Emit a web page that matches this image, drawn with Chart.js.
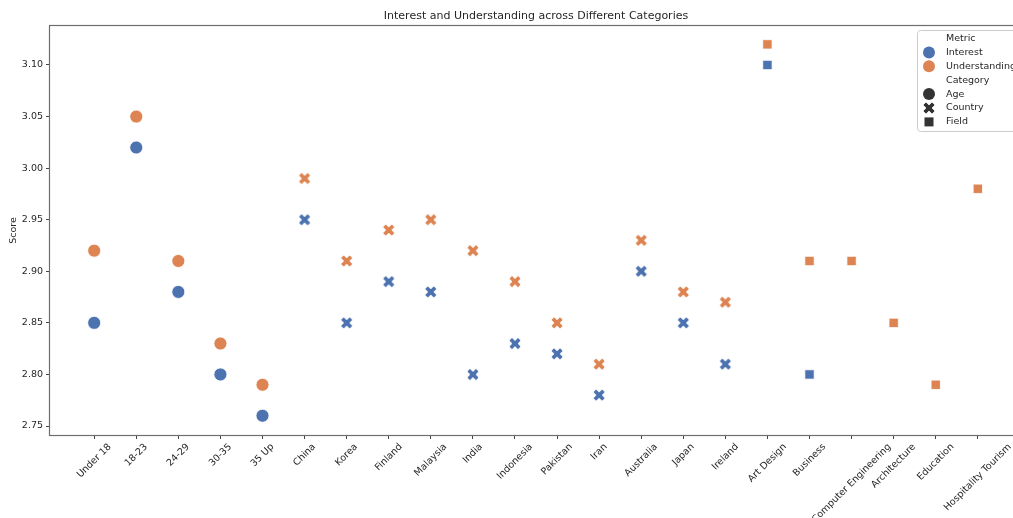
<!DOCTYPE html>
<html>
<head>
<meta charset="utf-8">
<script src="https://cdn.jsdelivr.net/npm/chart.js@4.4.1/dist/chart.umd.min.js"></script>
<style>
  html, body { margin: 0; padding: 0; background: #fff; overflow: hidden; width: 1013px; height: 518px; }
  #c { display: block; }
</style>
</head>
<body>
<canvas id="c" width="1060" height="518"></canvas>
<script>
const categories = ['Under 18','18-23','24-29','30-35','35 Up','China','Korea','Finland','Malaysia','India','Indonesia','Pakistan','Iran','Australia','Japan','Ireland','Art Design','Business','Computer Engineering','Architecture','Education','Hospitality Tourism'];
const categoryType = ['Age','Age','Age','Age','Age','Country','Country','Country','Country','Country','Country','Country','Country','Country','Country','Country','Field','Field','Field','Field','Field','Field'];
const interest = [2.85,3.02,2.88,2.80,2.76,2.95,2.85,2.89,2.88,2.80,2.83,2.82,2.78,2.90,2.85,2.81,3.10,2.80,null,null,null,null];
const understanding = [2.92,3.05,2.91,2.83,2.79,2.99,2.91,2.94,2.95,2.92,2.89,2.85,2.81,2.93,2.88,2.87,3.12,2.91,2.91,2.85,2.79,2.98];
const yTicks = [2.75,2.80,2.85,2.90,2.95,3.00,3.05,3.10];
const metricNames = ['Interest','Understanding'];
const categoryNames = ['Age','Country','Field'];

const BLUE = '#4c72b0', ORANGE = '#dd8452', DARK = '#333333';
const FONT = '"DejaVu Sans", sans-serif';
const TXT = '#262626';
const SMALL = '9.5px ' + FONT;

function xMarker(color, size) {
  const pad = 2, dim = Math.ceil(size + pad * 2);
  const cv = document.createElement('canvas');
  cv.width = dim; cv.height = dim;
  const g = cv.getContext('2d');
  const v = [[-1,-2],[0,-1],[1,-2],[2,-1],[1,0],[2,1],[1,2],[0,1],[-1,2],[-2,1],[-1,0],[-2,-1]];
  g.beginPath();
  v.forEach((p, i) => {
    const x = dim / 2 + p[0] / 4 * size, y = dim / 2 + p[1] / 4 * size;
    i ? g.lineTo(x, y) : g.moveTo(x, y);
  });
  g.closePath();
  g.fillStyle = color; g.fill();
  g.strokeStyle = 'rgba(255,255,255,0.9)'; g.lineWidth = 0.8; g.stroke();
  return cv;
}
const xBlue = xMarker(BLUE, 12), xOrange = xMarker(ORANGE, 12), xDark = xMarker(DARK, 12);

function styleFor(type, xImg) {
  if (type === 'Age') return 'circle';
  if (type === 'Country') return xImg;
  return 'rect';
}
function radiusFor(type) {
  if (type === 'Age') return 6.5;
  if (type === 'Country') return 6;
  return 6.6;
}

function makeDataset(label, values, color, xImg) {
  return {
    label,
    data: values.map((v, i) => ({ x: i, y: v })),
    backgroundColor: color,
    borderColor: '#ffffff',
    borderWidth: 0.8,
    pointStyle: ctx => styleFor(categoryType[ctx.dataIndex], xImg),
    pointRadius: ctx => radiusFor(categoryType[ctx.dataIndex]),
    pointHoverRadius: ctx => radiusFor(categoryType[ctx.dataIndex]),
    showLine: false
  };
}

const decor = {
  id: 'decor',
  afterDraw(chart) {
    const ctx = chart.ctx, a = chart.chartArea, xs = chart.scales.x;
    ctx.save();
    // spines
    ctx.strokeStyle = '#6e6e6e'; ctx.lineWidth = 1.2;
    ctx.strokeRect(Math.round(a.left) - 0.5, Math.round(a.top) - 0.5, Math.round(a.right - a.left) + 1, Math.round(a.bottom - a.top) + 1);
    // title
    ctx.fillStyle = TXT;
    ctx.font = '11px ' + FONT;
    ctx.textAlign = 'center'; ctx.textBaseline = 'middle';
    ctx.fillText('Interest and Understanding across Different Categories', (a.left + a.right) / 2, 16);
    // y label
    ctx.save();
    ctx.translate(14, (a.top + a.bottom) / 2);
    ctx.rotate(-Math.PI / 2);
    ctx.font = SMALL;
    ctx.fillText('Score', 0, 0);
    ctx.restore();
    // x tick labels rotated 45, centered
    ctx.font = SMALL;
    const top = a.bottom + 7;
    const h = 9.5;
    categories.forEach((lab, i) => {
      const w = ctx.measureText(lab).width;
      const half = (w + h) * Math.SQRT1_2 / 2;
      ctx.save();
      ctx.translate(xs.getPixelForValue(i), top + half);
      ctx.rotate(-Math.PI / 4);
      ctx.textAlign = 'center'; ctx.textBaseline = 'middle';
      ctx.fillText(lab, 0, 0);
      ctx.restore();
    });
    // legend
    const lx = 917, ly = 30, lw = 130, lh = 101;
    ctx.beginPath();
    ctx.roundRect(lx + 0.5, ly + 0.5, lw, lh, 3);
    ctx.fillStyle = 'rgba(255,255,255,0.8)'; ctx.fill();
    ctx.strokeStyle = '#cccccc'; ctx.lineWidth = 1; ctx.stroke();
    const rows = [
      { t: 'Metric' },
      { t: metricNames[0], m: 'circle', c: BLUE },
      { t: metricNames[1], m: 'circle', c: ORANGE },
      { t: 'Category' },
      { t: categoryNames[0], m: 'circle', c: DARK },
      { t: categoryNames[1], m: 'x', c: DARK },
      { t: categoryNames[2], m: 'rect', c: DARK }
    ];
    ctx.font = SMALL;
    ctx.textAlign = 'left'; ctx.textBaseline = 'middle';
    rows.forEach((r, i) => {
      const y = 38.5 + i * 13.9, mx = 929;
      if (r.m === 'circle') {
        ctx.beginPath(); ctx.arc(mx, y, 6, 0, Math.PI * 2);
        ctx.fillStyle = r.c; ctx.fill();
      } else if (r.m === 'x') {
        ctx.drawImage(xDark, mx - xDark.width / 2, y - xDark.height / 2);
      } else if (r.m === 'rect') {
        ctx.fillStyle = r.c; ctx.fillRect(mx - 4.5, y - 4.5, 9, 9);
      }
      ctx.fillStyle = TXT;
      ctx.fillText(r.t, 946, y);
    });
    ctx.restore();
  }
};

new Chart(document.getElementById('c'), {
  type: 'scatter',
  data: {
    datasets: [
      makeDataset('Interest', interest, BLUE, xBlue),
      makeDataset('Understanding', understanding, ORANGE, xOrange)
    ]
  },
  options: {
    responsive: false,
    animation: false,
    events: [],
    layout: { padding: { left: 0, top: 26, right: 38, bottom: 0 } },
    plugins: { legend: { display: false }, title: { display: false }, tooltip: { enabled: false } },
    scales: {
      x: {
        type: 'linear',
        min: -1.05, max: 22.05,
        afterBuildTicks: s => { s.ticks = categories.map((_, i) => ({ value: i })); },
        afterFit: s => { s.height = 83; },
        border: { display: false },
        grid: { drawOnChartArea: false, drawTicks: true, tickLength: 4, color: '#444' },
        ticks: { autoSkip: false, minRotation: 45, maxRotation: 45, color: 'rgba(0,0,0,0)', font: { size: 9.5, family: FONT }, callback: v => categories[v] }
      },
      y: {
        type: 'linear',
        min: 2.7413, max: 3.1378,
        afterBuildTicks: s => { s.ticks = yTicks.map(v => ({ value: v })); },
        afterFit: s => { s.width = 50; },
        border: { display: false },
        grid: { drawOnChartArea: false, drawTicks: true, tickLength: 4, color: '#444' },
        ticks: { padding: 3, color: TXT, font: { size: 9.5, family: FONT }, callback: v => Number(v).toFixed(2) }
      }
    }
  },
  plugins: [decor]
});
</script>
</body>
</html>
